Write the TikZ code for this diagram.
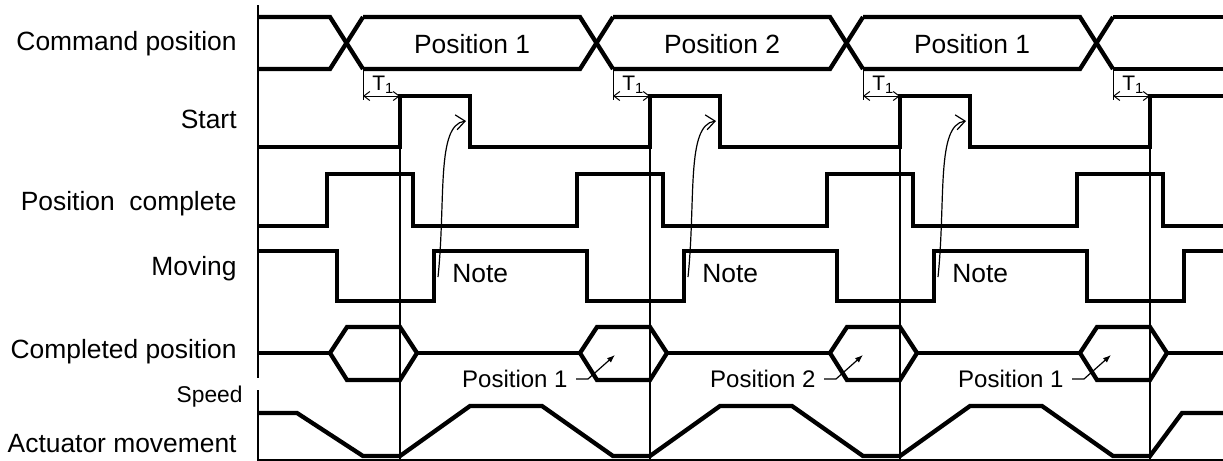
\documentclass[tikz,border=0pt]{standalone}
\usepackage{fontspec}
\setmainfont{Liberation Sans}
\usetikzlibrary{arrows.meta, positioning}

\tikzset{
  signal/.style={line width=2.15pt},
  guide/.style={line width=0.65pt},
  rowlabel/.style={anchor=base east, inner sep=0pt, font=\fontsize{13.2}{15}\selectfont},
  bustext/.style={inner sep=0pt, font=\fontsize{13.2}{15}\selectfont},
  gap/.style={line width=0.5pt, {Straight Barb[length=3pt,width=4.5pt]}-{Straight Barb[length=3pt,width=4.5pt]}},
  notearrow/.style={line width=0.6pt, -{Straight Barb[length=4.5pt,width=7.5pt]}},
  leader/.style={line width=0.6pt, -{Latex[length=4pt,width=3pt]}},
}

\begin{document}
\begin{tikzpicture}[x=0.5pt, y=-0.5pt]
    \useasboundingbox (0,0) rectangle (1223,461);

    % Trục bên trái và đường đáy
    \draw[guide] (258,5) -- (258,378);
    \draw[guide] (258,390) -- (258,460) -- (1223,460);

    % Tên các tín hiệu
    \node[rowlabel] (cmd) at (237,50) {Command position};
    \node[rowlabel] (start) at (237,128) {Start};
    \node[rowlabel] (poscomp) at (237,210) {Position\ \ complete};
    \node[rowlabel] (moving) at (237,275) {Moving};
    \node[rowlabel] (compos) at (237,358) {Completed position};
    \node[rowlabel, font=\fontsize{11.4}{13}\selectfont] (speed) at (243,402) {Speed};
    \node[rowlabel] (act) at (237,452) {Actuator movement};

    % Command position
    \draw[signal] (258,17) -- (330,17) -- (363,69);
    \draw[signal] (258,69) -- (330,69) -- (363,17);
    \foreach \k in {0,1,2} {
        \draw[signal] ({363+250*\k},17) -- ({580+250*\k},17) -- ({613+250*\k},69);
        \draw[signal] ({363+250*\k},69) -- ({580+250*\k},69) -- ({613+250*\k},17);
    }
    \draw[signal] (1113,17) -- (1223,17);
    \draw[signal] (1113,69) -- (1223,69);
    \node[bustext, anchor=base] (cmdpos1) at (472,53) {Position 1};
    \node[bustext, anchor=base] (cmdpos2) at (722,53) {Position 2};
    \node[bustext, anchor=base] (cmdpos3) at (972,53) {Position 1};

    % Start
    \draw[signal] (258,147) \foreach \k in {0,1,2} {
        -- ({400+250*\k},147) -- ({400+250*\k},96) -- ({470+250*\k},96) -- ({470+250*\k},147)
    } -- (1150,147) -- (1150,96) -- (1223,96);

    % Khoảng trễ T1
    \foreach \k in {0,...,3} {
        \draw[line width=0.5pt] ({363+250*\k},69) -- ({363+250*\k},100);
        \draw[gap] ({363+250*\k},96) -- ({400+250*\k},96);
        \node[inner sep=0pt, anchor=base west, font=\fontsize{10.5}{12}\selectfont]
            (tdelay\k) at ({372+250*\k},90) {T\textsubscript{1}};
    }

    % Position complete
    \draw[signal] (258,226) \foreach \k in {0,...,3} {
        -- ({327+250*\k},226) -- ({327+250*\k},174) -- ({413+250*\k},174) -- ({413+250*\k},226)
    } -- (1223,226);

    % Moving
    \draw[signal] (258,251) \foreach \k in {0,...,3} {
        -- ({337+250*\k},251) -- ({337+250*\k},301) -- ({434+250*\k},301) -- ({434+250*\k},251)
    } -- (1223,251);

    % Completed position
    \foreach \k in {0,...,3}
        \draw[signal] ({330+250*\k},353) -- ({347+250*\k},327) -- ({400+250*\k},327)
            -- ({417+250*\k},353) -- ({400+250*\k},380) -- ({347+250*\k},380) -- cycle;
    \draw[signal] (258,353) -- (330,353);
    \foreach \k in {0,1,2}
        \draw[signal] ({417+250*\k},353) -- ({580+250*\k},353);
    \draw[signal] (1167,353) -- (1223,353);

    % Actuator movement
    \draw[signal] (258,413) -- (297,413) -- (363,456) -- (400,456)
        \foreach \k in {0,1,2} {
            -- ({470+250*\k},406) -- ({542+250*\k},406) -- ({613+250*\k},456) -- ({650+250*\k},456)
        } -- (1182,413) -- (1223,413);

    % Đường dóng thẳng đứng
    \foreach \k in {0,...,3}
        \draw[guide] ({400+250*\k},147) -- ({400+250*\k},460);

    % Ghi chú
    \foreach \k in {0,1,2} {
        \node[bustext, anchor=base west] (note\k) at ({452+250*\k},282) {Note};
        \coordinate (notetip\k) at ({466+250*\k},121);
        \draw[notearrow] ([shift={(-14,-5)}]note\k.base west)
            .. controls +(8,-77) and +(-30,4) .. (notetip\k);
    }

    % Nhãn vị trí đã hoàn thành
    \foreach \k/\txt in {0/Position 1, 1/Position 2, 2/Position 1} {
        \coordinate (hex\k) at ({615+248*\k},355);
        \node[bustext, anchor=base east, font=\fontsize{12}{14}\selectfont]
            (done\k) at ({568+248*\k},387) {\txt};
        \draw[leader] ([shift={(8,-8)}]done\k.base east) -- ++(12,0) -- (hex\k);
    }
\end{tikzpicture}
\end{document}
